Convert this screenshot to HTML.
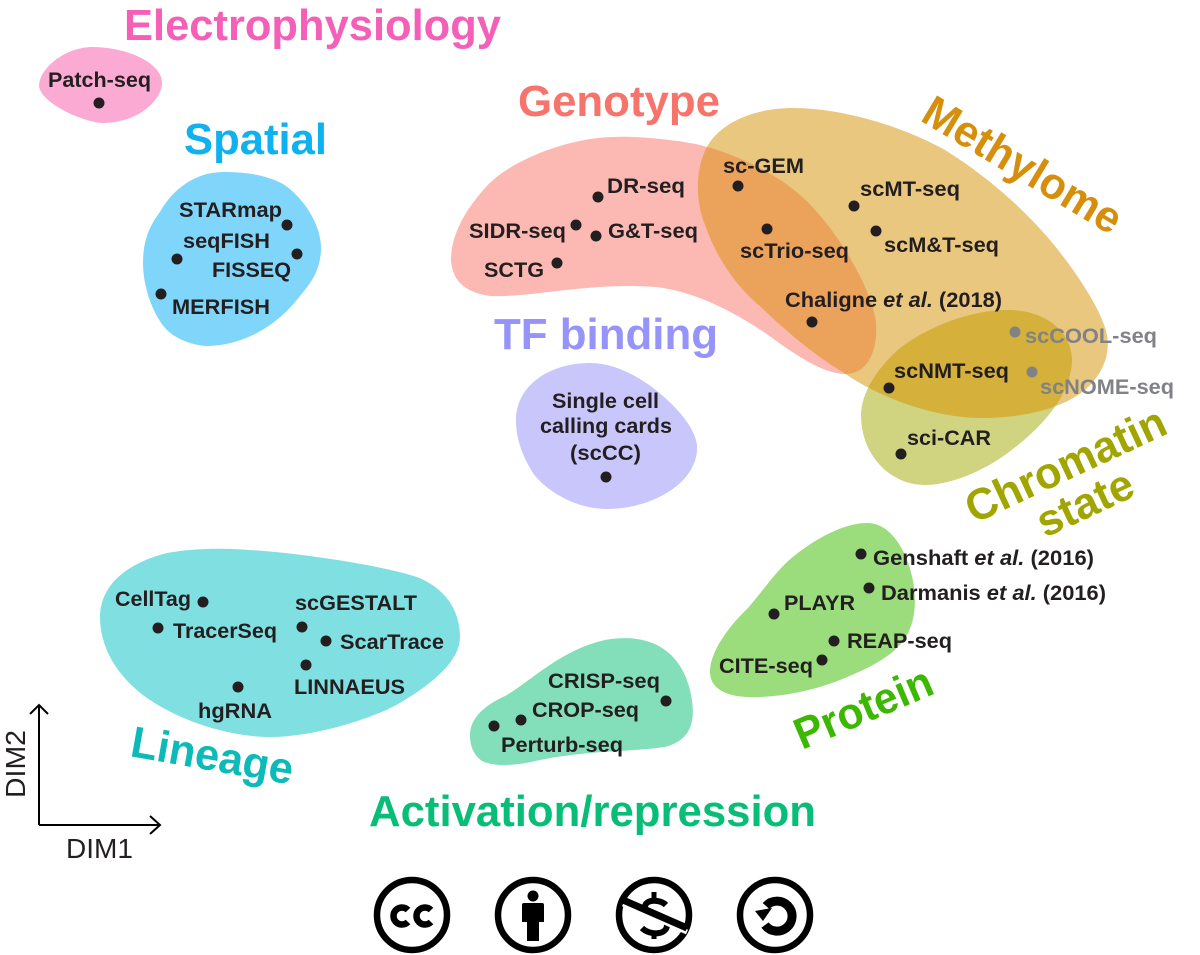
<!DOCTYPE html>
<html><head><meta charset="utf-8"><style>
html,body{margin:0;padding:0;background:#fff;width:1200px;height:955px;overflow:hidden}
svg{display:block}
text{font-family:"Liberation Sans",sans-serif;font-weight:bold}
.l{font-size:21.5px;fill:#231f20}
.g{font-size:21.5px;fill:#808285}
.t{font-size:44px}
</style></head><body>
<svg width="1200" height="955" viewBox="0 0 1200 955" xmlns="http://www.w3.org/2000/svg">
<defs>
<path id="meth" d="M793 108C755 108 722 122 708 145C695 168 695 200 705 225C718 262 740 290 761 307C790 335 815 355 844 373C880 398 935 418 982 418C1020 418 1060 410 1085 390C1105 372 1110 352 1107 335C1102 310 1075 270 1050 240C1020 205 985 175 945 150C900 125 840 108 793 108Z"/>
<path id="geno" d="M451 260C452 278 462 292 490 296C530 298 590 282 656 287C700 292 745 318 775 340C800 358 825 374 846 374C868 374 878 350 876 323C873 290 835 225 800 195C770 168 720 148 690 143C660 138 630 136 615 137C570 137 510 160 486 187C465 210 451 235 451 260Z"/>
<path id="chro" d="M861 415C861 395 875 370 900 348C930 325 975 309 1010 310C1050 311 1072 335 1072 360C1072 395 1040 430 1005 455C975 476 945 485 925 485C890 485 861 455 861 415Z"/>
<clipPath id="cm"><use href="#meth"/></clipPath>
</defs>

<!-- blobs -->
<path fill="#fbaad3" d="M39 85C40 68 65 47 93 47C125 47 162 62 162 83C162 100 138 123 103 123C85 123 39 103 39 85Z"/>
<path fill="#80d5fb" d="M223 172C250 172 268 176 283 184C303 197 322 225 321 250C320 270 312 282 300 296C287 313 272 325 257 333C240 342 222 346 207 346C190 345 175 338 167 330C155 318 143 290 143 263C143 240 150 225 160 212C172 190 195 172 223 172Z"/>
<path fill="#c8c6fb" d="M516 420C516 385 550 363 590 363C625 363 660 390 680 413C692 427 698 440 697 450C695 485 650 509 607 509C575 509 545 490 533 473C523 457 516 440 516 420Z"/>
<path fill="#80dfe1" d="M100 617C100 590 120 565 167 553C195 548 225 548 250 550C300 553 380 565 417 577C445 588 460 610 460 637C460 660 435 682 400 703C370 720 310 738 267 737C225 736 180 720 150 700C120 680 100 650 100 617Z"/>
<path fill="#83dfb9" d="M470 735C470 718 485 705 505 696C530 682 560 650 605 640C650 632 680 650 690 690C697 720 692 740 665 747C630 752 590 750 540 760C515 766 495 767 482 761C475 756 470 748 470 735Z"/>
<path fill="#9bdc7c" d="M867 523C885 523 897 538 905 555C916 580 919 612 908 633C897 655 870 668 840 680C810 692 775 698 747 697C725 696 709 688 710 670C711 650 730 625 748 608C765 588 772 577 785 564C805 545 840 523 867 523Z"/>

<use href="#geno" fill="#fcb9b3"/>
<use href="#meth" fill="#e9c77e"/>
<use href="#chro" fill="#d0d480"/>
<g clip-path="url(#cm)"><use href="#geno" fill="#eba35c"/><use href="#chro" fill="#d5b03a"/></g>

<!-- titles -->
<text class="t" x="124" y="40" fill="#f45fb7" textLength="377" lengthAdjust="spacingAndGlyphs">Electrophysiology</text>
<text class="t" x="184" y="154" fill="#0fb1ef" textLength="143" lengthAdjust="spacingAndGlyphs">Spatial</text>
<text class="t" x="518" y="116" fill="#f6746b" textLength="202" lengthAdjust="spacingAndGlyphs">Genotype</text>
<text class="t" x="494" y="349" fill="#9694fa" textLength="224" lengthAdjust="spacingAndGlyphs">TF binding</text>
<text class="t" transform="translate(919 120) rotate(31)" fill="#d58f0d" textLength="224" lengthAdjust="spacingAndGlyphs">Methylome</text>
<text class="t" transform="translate(974 524) rotate(-25)" fill="#a1a500" textLength="216" lengthAdjust="spacingAndGlyphs">Chromatin</text>
<text class="t" transform="translate(1045 538) rotate(-25)" fill="#a1a500" textLength="102" lengthAdjust="spacingAndGlyphs">state</text>
<text class="t" transform="translate(802 750) rotate(-23)" fill="#3cb802" textLength="146" lengthAdjust="spacingAndGlyphs">Protein</text>
<text class="t" transform="translate(129 756) rotate(10)" fill="#0cbab8" textLength="164" lengthAdjust="spacingAndGlyphs">Lineage</text>
<text class="t" x="369" y="826" fill="#08bd78" textLength="447" lengthAdjust="spacingAndGlyphs">Activation/repression</text>

<!-- dots -->
<g fill="#231f20">
<circle cx="99" cy="103" r="5.5"/>
<circle cx="287" cy="225" r="5.5"/><circle cx="177" cy="259" r="5.5"/><circle cx="297" cy="254" r="5.5"/><circle cx="161" cy="294" r="5.5"/>
<circle cx="598" cy="197" r="5.5"/><circle cx="576" cy="225" r="5.5"/><circle cx="596" cy="236" r="5.5"/><circle cx="557" cy="263" r="5.5"/>
<circle cx="738" cy="186" r="5.5"/><circle cx="767" cy="229" r="5.5"/><circle cx="854" cy="206" r="5.5"/><circle cx="876" cy="231" r="5.5"/><circle cx="812" cy="322" r="5.5"/>
<circle cx="889" cy="388" r="5.5"/><circle cx="901" cy="454" r="5.5"/>
<circle cx="606" cy="477" r="5.5"/>
<circle cx="203" cy="602" r="5.5"/><circle cx="158" cy="628" r="5.5"/><circle cx="302" cy="627" r="5.5"/><circle cx="326" cy="641" r="5.5"/><circle cx="306" cy="665" r="5.5"/><circle cx="238" cy="687" r="5.5"/>
<circle cx="666" cy="701" r="5.5"/><circle cx="521" cy="720" r="5.5"/><circle cx="494" cy="726" r="5.5"/>
<circle cx="861" cy="554" r="5.5"/><circle cx="869" cy="588" r="5.5"/><circle cx="774" cy="614" r="5.5"/><circle cx="834" cy="641" r="5.5"/><circle cx="822" cy="660" r="5.5"/>
</g>
<circle cx="1015" cy="332" r="5.5" fill="#808285"/><circle cx="1032" cy="372" r="5.5" fill="#808285"/>

<!-- labels -->
<text class="l" x="48" y="87" textLength="103" lengthAdjust="spacingAndGlyphs">Patch-seq</text>
<text class="l" x="179" y="217" textLength="103" lengthAdjust="spacingAndGlyphs">STARmap</text>
<text class="l" x="183" y="248" textLength="87" lengthAdjust="spacingAndGlyphs">seqFISH</text>
<text class="l" x="212" y="277" textLength="79" lengthAdjust="spacingAndGlyphs">FISSEQ</text>
<text class="l" x="172" y="314" textLength="98" lengthAdjust="spacingAndGlyphs">MERFISH</text>
<text class="l" x="607" y="193" textLength="78" lengthAdjust="spacingAndGlyphs">DR-seq</text>
<text class="l" x="469" y="238" textLength="97" lengthAdjust="spacingAndGlyphs">SIDR-seq</text>
<text class="l" x="608" y="238" textLength="90" lengthAdjust="spacingAndGlyphs">G&amp;T-seq</text>
<text class="l" x="484" y="277" textLength="60" lengthAdjust="spacingAndGlyphs">SCTG</text>
<text class="l" x="723" y="173" textLength="81" lengthAdjust="spacingAndGlyphs">sc-GEM</text>
<text class="l" x="740" y="258" textLength="109" lengthAdjust="spacingAndGlyphs">scTrio-seq</text>
<text class="l" x="860" y="196" textLength="100" lengthAdjust="spacingAndGlyphs">scMT-seq</text>
<text class="l" x="884" y="252" textLength="115" lengthAdjust="spacingAndGlyphs">scM&amp;T-seq</text>
<text class="l" x="785" y="307" textLength="217" lengthAdjust="spacingAndGlyphs">Chaligne <tspan font-style="italic">et al.</tspan> (2018)</text>
<text class="l" x="894" y="378" textLength="115" lengthAdjust="spacingAndGlyphs">scNMT-seq</text>
<text class="l" x="907" y="445" textLength="84" lengthAdjust="spacingAndGlyphs">sci-CAR</text>
<text class="g" x="1025" y="343" textLength="132" lengthAdjust="spacingAndGlyphs">scCOOL-seq</text>
<text class="g" x="1040" y="394" textLength="134" lengthAdjust="spacingAndGlyphs">scNOME-seq</text>
<text class="l" x="552" y="408" textLength="107" lengthAdjust="spacingAndGlyphs">Single cell</text>
<text class="l" x="540" y="433" textLength="132" lengthAdjust="spacingAndGlyphs">calling cards</text>
<text class="l" x="570" y="460" textLength="71" lengthAdjust="spacingAndGlyphs">(scCC)</text>
<text class="l" x="115" y="606" textLength="76" lengthAdjust="spacingAndGlyphs">CellTag</text>
<text class="l" x="173" y="638" textLength="104" lengthAdjust="spacingAndGlyphs">TracerSeq</text>
<text class="l" x="295" y="610" textLength="122" lengthAdjust="spacingAndGlyphs">scGESTALT</text>
<text class="l" x="340" y="649" textLength="104" lengthAdjust="spacingAndGlyphs">ScarTrace</text>
<text class="l" x="294" y="694" textLength="111" lengthAdjust="spacingAndGlyphs">LINNAEUS</text>
<text class="l" x="198" y="718" textLength="74" lengthAdjust="spacingAndGlyphs">hgRNA</text>
<text class="l" x="548" y="688" textLength="112" lengthAdjust="spacingAndGlyphs">CRISP-seq</text>
<text class="l" x="532" y="717" textLength="107" lengthAdjust="spacingAndGlyphs">CROP-seq</text>
<text class="l" x="501" y="752" textLength="122" lengthAdjust="spacingAndGlyphs">Perturb-seq</text>
<text class="l" x="873" y="565" textLength="221" lengthAdjust="spacingAndGlyphs">Genshaft <tspan font-style="italic">et al.</tspan> (2016)</text>
<text class="l" x="881" y="600" textLength="225" lengthAdjust="spacingAndGlyphs">Darmanis <tspan font-style="italic">et al.</tspan> (2016)</text>
<text class="l" x="784" y="610" textLength="71" lengthAdjust="spacingAndGlyphs">PLAYR</text>
<text class="l" x="847" y="648" textLength="105" lengthAdjust="spacingAndGlyphs">REAP-seq</text>
<text class="l" x="719" y="673" textLength="94" lengthAdjust="spacingAndGlyphs">CITE-seq</text>

<!-- axes -->
<g fill="none" stroke="#000" stroke-width="2">
<path d="M39 825V705M30 714L39 705L48 714"/>
<path d="M39 825H160M150 816L160 825L150 834"/>
</g>
<text x="66" y="858" font-size="28" style="font-weight:normal" fill="#231f20" textLength="67" lengthAdjust="spacingAndGlyphs">DIM1</text>
<text transform="translate(25 798) rotate(-90)" font-size="28" style="font-weight:normal" fill="#231f20" textLength="68" lengthAdjust="spacingAndGlyphs">DIM2</text>

<!-- licence icons -->
<g fill="none" stroke="#000" stroke-width="6.5">
<circle cx="412" cy="915" r="35"/>
<circle cx="533" cy="915" r="35"/>
<circle cx="654" cy="915" r="35"/>
<circle cx="775" cy="915" r="35"/>
</g>
<g fill="none" stroke="#000" stroke-width="6.5">
<path d="M408 910A8.5 8.5 0 1 0 408 922"/>
<path d="M431 910A8.5 8.5 0 1 0 431 922"/>
</g>
<circle cx="533" cy="896" r="5.5"/>
<path d="M524 903H542Q544 903 544 905V922H539V941H527V922H522V905Q522 903 524 903Z"/>
<path d="M666 905C660 899 645 899 645 907C645 915 667 915 667 925C667 935 650 936 642 928" fill="none" stroke="#000" stroke-width="6"/>
<path d="M654 892V900M654 932V939" stroke="#000" stroke-width="5"/>
<path d="M623 904L687 932" stroke="#fff" stroke-width="5" fill="none"/>
<path d="M623 900L687 928" stroke="#000" stroke-width="7" fill="none"/>
<path d="M766 906A15 15 0 1 1 765 925" fill="none" stroke="#000" stroke-width="9"/>
<path d="M755 911L772 908L763 921Z"/>
</svg>
</body></html>
